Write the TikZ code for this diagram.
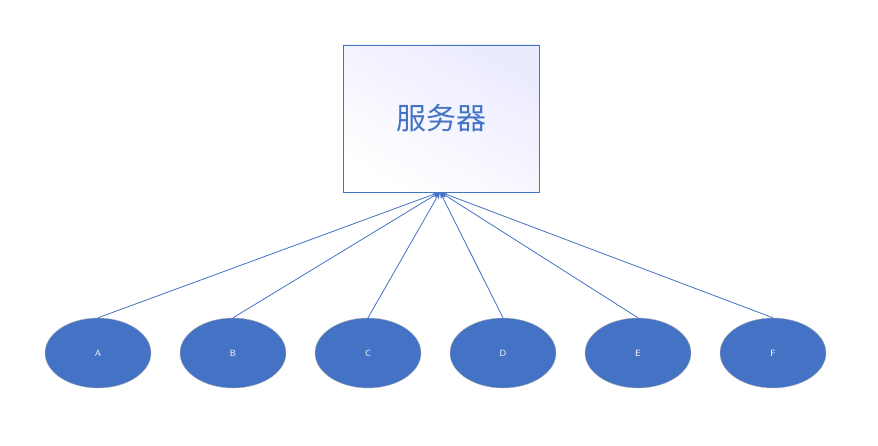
\documentclass[tikz,border=0pt]{standalone}
\usepackage{fontspec}
\newfontfamily\cjk{Noto Sans CJK SC}
\usetikzlibrary{arrows.meta,shapes.geometric}
\definecolor{mblue}{HTML}{4472C4}
\begin{document}
\begin{tikzpicture}[x=1pt,y=-1pt,
  client/.style={ellipse,draw=gray!60,fill=mblue,minimum width=106pt,minimum height=70pt,inner sep=0pt,text=white,font=\sffamily\fontsize{9}{9}\selectfont},
  link/.style={draw=mblue,line width=0.8pt,-{Stealth[length=7pt,width=5pt]}}]
\useasboundingbox (0,0) rectangle (878,446);
\node[draw=mblue,line width=0.8pt,top color=blue!8,bottom color=white,shading angle=-30,minimum width=196pt,minimum height=147pt,inner sep=0pt] (srv) at (441,118.5) {\cjk\fontsize{30}{30}\selectfont\color{mblue}服务器};
\coordinate (t) at (440,192);
\foreach \n/\x in {A/98,B/233,C/368,D/503,E/638,F/773}{
  \node[client] (\n) at (\x,353) {\n};
  \draw[link] (\n.north) -- (t);
}
\end{tikzpicture}
\end{document}
